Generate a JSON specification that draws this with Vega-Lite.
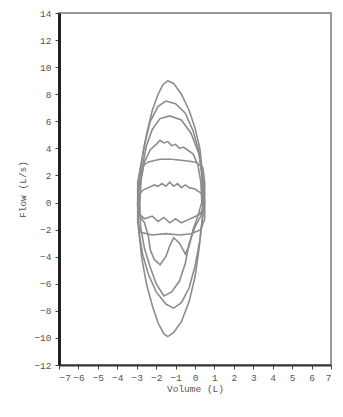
{
  "$schema": "https://vega.github.io/schema/vega-lite/v6.json",
  "autosize": {"type": "none"},
  "width": 272,
  "height": 352,
  "padding": {"left": 59, "top": 13, "right": 12, "bottom": 52},
  "background": "white",
  "config": {
    "view": {"stroke": "#777777", "strokeWidth": 1.5},
    "axis": {"labelFont": "Liberation Mono", "titleFont": "Liberation Mono", "labelFontSize": 9.5, "titleFontSize": 9.5, "titleFontWeight": "normal", "labelColor": "#555555", "titleColor": "#555555", "grid": false, "tickColor": "#444444", "tickSize": 4}
  },
  "datasets": {
    "loops": [
      {"loop": "A", "i": 0, "v": 0.45, "f": 0}, {"loop": "A", "i": 1, "v": 0.4, "f": 2}, {"loop": "A", "i": 2, "v": 0.25, "f": 4}, {"loop": "A", "i": 3, "v": 0.0, "f": 5.5}, {"loop": "A", "i": 4, "v": -0.3, "f": 6.8}, {"loop": "A", "i": 5, "v": -0.7, "f": 8.0}, {"loop": "A", "i": 6, "v": -1.1, "f": 8.8}, {"loop": "A", "i": 7, "v": -1.4, "f": 9.0}, {"loop": "A", "i": 8, "v": -1.65, "f": 8.7}, {"loop": "A", "i": 9, "v": -1.9, "f": 8.0}, {"loop": "A", "i": 10, "v": -2.2, "f": 6.8}, {"loop": "A", "i": 11, "v": -2.5, "f": 5.0}, {"loop": "A", "i": 12, "v": -2.75, "f": 3.0}, {"loop": "A", "i": 13, "v": -2.9, "f": 1.0}, {"loop": "A", "i": 14, "v": -2.95, "f": 0}, {"loop": "A", "i": 15, "v": -2.9, "f": -2}, {"loop": "A", "i": 16, "v": -2.75, "f": -4}, {"loop": "A", "i": 17, "v": -2.5, "f": -6}, {"loop": "A", "i": 18, "v": -2.2, "f": -7.6}, {"loop": "A", "i": 19, "v": -1.9, "f": -8.9}, {"loop": "A", "i": 20, "v": -1.6, "f": -9.7}, {"loop": "A", "i": 21, "v": -1.4, "f": -9.9}, {"loop": "A", "i": 22, "v": -1.1, "f": -9.6}, {"loop": "A", "i": 23, "v": -0.7, "f": -8.8}, {"loop": "A", "i": 24, "v": -0.3, "f": -7.3}, {"loop": "A", "i": 25, "v": 0.0, "f": -5.5}, {"loop": "A", "i": 26, "v": 0.2, "f": -3.5}, {"loop": "A", "i": 27, "v": 0.35, "f": -1.5}, {"loop": "A", "i": 28, "v": 0.45, "f": 0},
      {"loop": "B", "i": 0, "v": 0.4, "f": 0}, {"loop": "B", "i": 1, "v": 0.35, "f": 2}, {"loop": "B", "i": 2, "v": 0.2, "f": 3.8}, {"loop": "B", "i": 3, "v": -0.1, "f": 5.3}, {"loop": "B", "i": 4, "v": -0.5, "f": 6.6}, {"loop": "B", "i": 5, "v": -1.0, "f": 7.3}, {"loop": "B", "i": 6, "v": -1.5, "f": 7.5}, {"loop": "B", "i": 7, "v": -1.9, "f": 7.1}, {"loop": "B", "i": 8, "v": -2.3, "f": 6.0}, {"loop": "B", "i": 9, "v": -2.6, "f": 4.3}, {"loop": "B", "i": 10, "v": -2.85, "f": 2.2}, {"loop": "B", "i": 11, "v": -2.95, "f": 0}, {"loop": "B", "i": 12, "v": -2.9, "f": -2}, {"loop": "B", "i": 13, "v": -2.7, "f": -3.8}, {"loop": "B", "i": 14, "v": -2.4, "f": -5.3}, {"loop": "B", "i": 15, "v": -2.0, "f": -6.6}, {"loop": "B", "i": 16, "v": -1.5, "f": -7.5}, {"loop": "B", "i": 17, "v": -1.1, "f": -7.8}, {"loop": "B", "i": 18, "v": -0.7, "f": -7.4}, {"loop": "B", "i": 19, "v": -0.3, "f": -6.3}, {"loop": "B", "i": 20, "v": 0.0, "f": -4.7}, {"loop": "B", "i": 21, "v": 0.25, "f": -2.8}, {"loop": "B", "i": 22, "v": 0.4, "f": -1.0}, {"loop": "B", "i": 23, "v": 0.4, "f": 0},
      {"loop": "C", "i": 0, "v": 0.45, "f": 0}, {"loop": "C", "i": 1, "v": 0.4, "f": 1.8}, {"loop": "C", "i": 2, "v": 0.2, "f": 3.6}, {"loop": "C", "i": 3, "v": -0.2, "f": 5.1}, {"loop": "C", "i": 4, "v": -0.7, "f": 6.1}, {"loop": "C", "i": 5, "v": -1.3, "f": 6.4}, {"loop": "C", "i": 6, "v": -1.8, "f": 6.2}, {"loop": "C", "i": 7, "v": -2.2, "f": 5.4}, {"loop": "C", "i": 8, "v": -2.5, "f": 4.2}, {"loop": "C", "i": 9, "v": -2.75, "f": 2.3}, {"loop": "C", "i": 10, "v": -2.85, "f": 0}, {"loop": "C", "i": 11, "v": -2.8, "f": -1.8}, {"loop": "C", "i": 12, "v": -2.6, "f": -3.4}, {"loop": "C", "i": 13, "v": -2.3, "f": -4.8}, {"loop": "C", "i": 14, "v": -2.0, "f": -6.0}, {"loop": "C", "i": 15, "v": -1.6, "f": -6.9}, {"loop": "C", "i": 16, "v": -1.2, "f": -6.6}, {"loop": "C", "i": 17, "v": -0.8, "f": -5.8}, {"loop": "C", "i": 18, "v": -0.5, "f": -4.5}, {"loop": "C", "i": 19, "v": -0.3, "f": -3.0}, {"loop": "C", "i": 20, "v": 0.0, "f": -1.8}, {"loop": "C", "i": 21, "v": 0.3, "f": -1.0}, {"loop": "C", "i": 22, "v": 0.45, "f": 0},
      {"loop": "D", "i": 0, "v": 0.35, "f": 0}, {"loop": "D", "i": 1, "v": 0.3, "f": 1.5}, {"loop": "D", "i": 2, "v": 0.15, "f": 2.8}, {"loop": "D", "i": 3, "v": -0.1, "f": 3.6}, {"loop": "D", "i": 4, "v": -0.4, "f": 3.9}, {"loop": "D", "i": 5, "v": -0.6, "f": 4.1}, {"loop": "D", "i": 6, "v": -0.8, "f": 4.0}, {"loop": "D", "i": 7, "v": -1.0, "f": 4.3}, {"loop": "D", "i": 8, "v": -1.2, "f": 4.2}, {"loop": "D", "i": 9, "v": -1.4, "f": 4.5}, {"loop": "D", "i": 10, "v": -1.6, "f": 4.4}, {"loop": "D", "i": 11, "v": -1.8, "f": 4.6}, {"loop": "D", "i": 12, "v": -2.0, "f": 4.3}, {"loop": "D", "i": 13, "v": -2.3, "f": 3.9}, {"loop": "D", "i": 14, "v": -2.6, "f": 3.0}, {"loop": "D", "i": 15, "v": -2.8, "f": 1.5}, {"loop": "D", "i": 16, "v": -2.85, "f": 0}, {"loop": "D", "i": 17, "v": -2.85, "f": -1.0}, {"loop": "D", "i": 18, "v": -2.6, "f": -1.5}, {"loop": "D", "i": 19, "v": -2.4, "f": -2.5}, {"loop": "D", "i": 20, "v": -2.3, "f": -3.5}, {"loop": "D", "i": 21, "v": -2.1, "f": -4.2}, {"loop": "D", "i": 22, "v": -1.8, "f": -4.6}, {"loop": "D", "i": 23, "v": -1.5, "f": -4.0}, {"loop": "D", "i": 24, "v": -1.3, "f": -3.2}, {"loop": "D", "i": 25, "v": -1.1, "f": -2.6}, {"loop": "D", "i": 26, "v": -0.8, "f": -3.0}, {"loop": "D", "i": 27, "v": -0.5, "f": -3.8}, {"loop": "D", "i": 28, "v": -0.3, "f": -3.2}, {"loop": "D", "i": 29, "v": -0.1, "f": -2.0}, {"loop": "D", "i": 30, "v": 0.1, "f": -1.2}, {"loop": "D", "i": 31, "v": 0.35, "f": 0},
      {"loop": "E", "i": 0, "v": 0.5, "f": 0}, {"loop": "E", "i": 1, "v": 0.4, "f": 0.6}, {"loop": "E", "i": 2, "v": 0.0, "f": 1.0}, {"loop": "E", "i": 3, "v": -0.3, "f": 1.1}, {"loop": "E", "i": 4, "v": -0.5, "f": 1.3}, {"loop": "E", "i": 5, "v": -0.7, "f": 1.1}, {"loop": "E", "i": 6, "v": -0.9, "f": 1.4}, {"loop": "E", "i": 7, "v": -1.1, "f": 1.2}, {"loop": "E", "i": 8, "v": -1.3, "f": 1.5}, {"loop": "E", "i": 9, "v": -1.5, "f": 1.2}, {"loop": "E", "i": 10, "v": -1.7, "f": 1.4}, {"loop": "E", "i": 11, "v": -1.9, "f": 1.2}, {"loop": "E", "i": 12, "v": -2.1, "f": 1.3}, {"loop": "E", "i": 13, "v": -2.4, "f": 1.1}, {"loop": "E", "i": 14, "v": -2.7, "f": 0.9}, {"loop": "E", "i": 15, "v": -2.9, "f": 0.5}, {"loop": "E", "i": 16, "v": -2.95, "f": 0}, {"loop": "E", "i": 17, "v": -2.9, "f": -0.8}, {"loop": "E", "i": 18, "v": -2.6, "f": -1.2}, {"loop": "E", "i": 19, "v": -2.2, "f": -1.0}, {"loop": "E", "i": 20, "v": -1.9, "f": -1.4}, {"loop": "E", "i": 21, "v": -1.6, "f": -1.1}, {"loop": "E", "i": 22, "v": -1.3, "f": -1.5}, {"loop": "E", "i": 23, "v": -1.0, "f": -1.2}, {"loop": "E", "i": 24, "v": -0.7, "f": -1.5}, {"loop": "E", "i": 25, "v": -0.4, "f": -1.3}, {"loop": "E", "i": 26, "v": -0.1, "f": -1.1}, {"loop": "E", "i": 27, "v": 0.2, "f": -0.9}, {"loop": "E", "i": 28, "v": 0.45, "f": -0.5}, {"loop": "E", "i": 29, "v": 0.5, "f": 0},
      {"loop": "F", "i": 0, "v": 0.5, "f": 0}, {"loop": "F", "i": 1, "v": 0.5, "f": 1.5}, {"loop": "F", "i": 2, "v": 0.4, "f": 2.6}, {"loop": "F", "i": 3, "v": 0.0, "f": 3.0}, {"loop": "F", "i": 4, "v": -0.6, "f": 3.1}, {"loop": "F", "i": 5, "v": -1.2, "f": 3.2}, {"loop": "F", "i": 6, "v": -1.8, "f": 3.2}, {"loop": "F", "i": 7, "v": -2.4, "f": 3.0}, {"loop": "F", "i": 8, "v": -2.8, "f": 2.6}, {"loop": "F", "i": 9, "v": -2.95, "f": 1.5}, {"loop": "F", "i": 10, "v": -2.95, "f": -1.5}, {"loop": "F", "i": 11, "v": -2.8, "f": -2.2}, {"loop": "F", "i": 12, "v": -2.2, "f": -2.4}, {"loop": "F", "i": 13, "v": -1.5, "f": -2.3}, {"loop": "F", "i": 14, "v": -0.8, "f": -2.4}, {"loop": "F", "i": 15, "v": -0.2, "f": -2.3}, {"loop": "F", "i": 16, "v": 0.3, "f": -2.0}, {"loop": "F", "i": 17, "v": 0.5, "f": -1.2}, {"loop": "F", "i": 18, "v": 0.5, "f": 0}
    ]
  },
  "layer": [
    {
      "data": {"name": "loops"},
      "mark": {"type": "line", "color": "#8c8c8c", "strokeWidth": 1.6, "clip": true},
      "encoding": {
        "x": {"field": "v", "type": "quantitative", "title": "Volume (L)",
              "scale": {"domain": [-7, 7], "nice": false, "zero": false},
              "axis": {"tickCount": 40, "format": "d", "values": [-7,-6,-5,-4,-3,-2,-1,0,1,2,3,4,5,6,7], "domainColor": "#333333", "domainWidth": 2, "labelPadding": 3, "titlePadding": 2, "labelOverlap": false}},
        "y": {"field": "f", "type": "quantitative", "title": "Flow (L/s)",
              "scale": {"domain": [-12, 14], "nice": false, "zero": false},
              "axis": {"tickCount": 40, "format": "d", "values": [-12,-10,-8,-6,-4,-2,0,2,4,6,8,10,12,14], "domainColor": "#222222", "domainWidth": 3, "labelPadding": 4, "titlePadding": 6, "labelOverlap": false}},
        "detail": {"field": "loop", "type": "nominal"},
        "order": {"field": "i", "type": "quantitative"}
      }
    },
    {
      "mark": {"type": "rule", "color": "#777777", "strokeWidth": 1.5},
      "encoding": {"y": {"datum": 0}}
    }
  ]
}
